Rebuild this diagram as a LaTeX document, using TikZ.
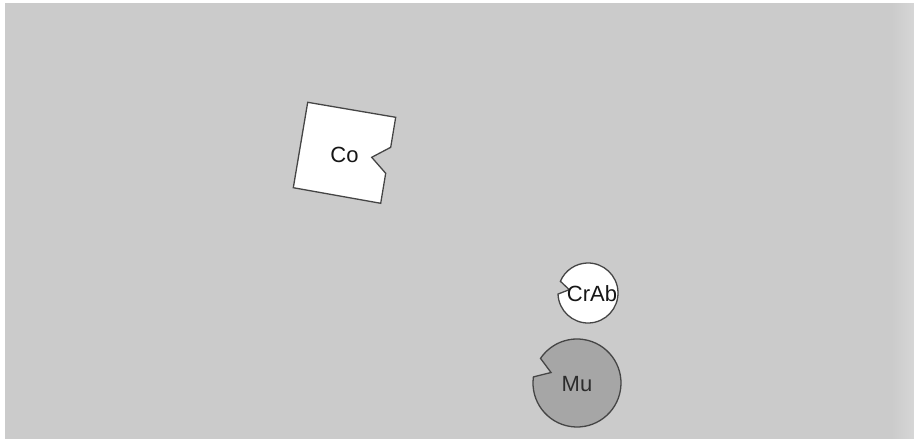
\documentclass[tikz,border=0pt]{standalone}
\usepackage{fontspec}
\setmainfont{Liberation Sans}
\definecolor{bggray}{HTML}{CBCBCB}
\definecolor{bgright}{HTML}{D6D6D6}
\definecolor{edgegray}{HTML}{454545}
\definecolor{mugray}{HTML}{A6A6A6}
\definecolor{txtgray}{HTML}{161616}
\begin{document}
\begin{tikzpicture}[x=1pt,y=1pt,
  shapeline/.style={draw=edgegray,line width=1.3pt,line join=miter},
  lbl/.style={inner sep=0pt,text=txtgray,font=\fontsize{22}{26}\selectfont}]
% canvas
\fill[white] (0,0) rectangle (914,-439);
\useasboundingbox (0,0) rectangle (914,-439);
\fill[bggray] (5,-3) rectangle (892,-439);
\shade[left color=bggray,right color=bgright] (891.5,-3) rectangle (914,-439);
% Co : rotated square with a notch on the right side
\draw[shapeline,fill=white]
  (307.7,-102.3) -- (395.7,-117.3) -- (390.7,-147.3) -- (371.7,-157.3)
  -- (385.7,-173.3) -- (380.7,-203.3) -- (293.3,-187.7) -- cycle;
\node[lbl] (co) at (344.5,-155) {Co};
% CrAb : white circle with a notch
\coordinate (crabc) at (588,-293);
\draw[shapeline,fill=white]
  ([shift={(182:30)}]crabc) arc[start angle=182,end angle=517,radius=30]
  -- ([shift={(170:19)}]crabc) -- cycle;
\node[lbl] (crab) at (592,-293.5) {CrAb};
% Mu : gray circle with a notch
\coordinate (muc) at (577,-383);
\draw[shapeline,fill=mugray]
  ([shift={(172:44)}]muc) arc[start angle=172,end angle=506,radius=44]
  -- ([shift={(158:28)}]muc) -- cycle;
\node[lbl,text=txtgray!85!mugray] (mu) at (577,-384) {Mu};
\end{tikzpicture}
\end{document}
